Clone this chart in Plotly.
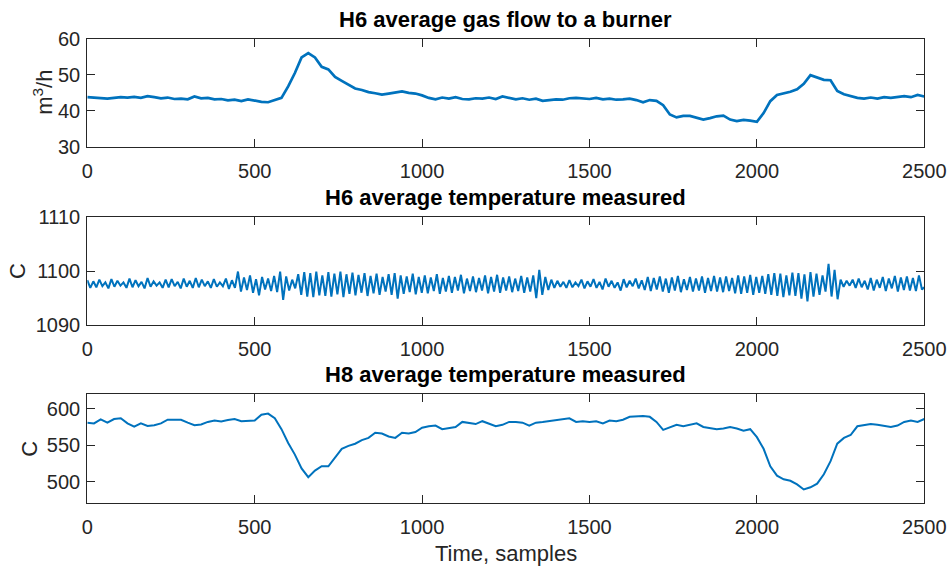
import plotly.graph_objects as go

# ---------------- data ----------------
gas_t = list(range(0, 2501, 20))
gas_v = [43.8, 43.6, 43.5, 43.4, 43.6, 43.8, 43.7, 43.9, 43.6, 44.1,
         43.8, 43.5, 43.7, 43.3, 43.4, 43.2, 44.0, 43.5, 43.6, 43.2,
         43.3, 42.9, 43.1, 42.7, 43.2, 42.8, 42.5, 42.4, 43.1, 43.6,
         46.8, 50.5, 54.8, 56.0, 54.8, 52.2, 51.5, 49.4, 48.3, 47.2,
         46.2, 45.8, 45.2, 44.9, 44.5, 44.8, 45.1, 45.4, 45.0, 44.8,
         44.3, 43.6, 43.2, 43.7, 43.4, 43.8, 43.3, 43.2, 43.5, 43.4,
         43.7, 43.3, 44.0, 43.6, 43.2, 43.5, 43.1, 43.4, 42.8, 43.0,
         43.2, 43.1, 43.5, 43.6, 43.4, 43.3, 43.6, 43.2, 43.4, 43.1,
         43.2, 43.4, 43.0, 42.4, 43.0, 42.8, 41.6, 39.0, 38.2, 38.6,
         38.6, 38.1, 37.6, 38.0, 38.5, 38.7, 37.6, 37.2, 37.5, 37.3,
         37.0, 39.4, 42.7, 44.4, 44.8, 45.3, 46.0, 47.5, 49.9, 49.2,
         48.6, 48.5, 45.5, 44.6, 44.0, 43.6, 43.4, 43.7, 43.4, 43.8,
         43.6, 43.9, 44.1, 43.8, 44.4, 44.0]

h6_t = list(range(0, 2500, 9)) + [2500]
h6_v = [1098.3, 1096.9, 1098.1, 1097.0, 1098.4, 1097.2, 1097.9, 1096.8, 1098.5, 1097.1,
        1098.2, 1097.3, 1097.9, 1096.9, 1098.6, 1097.0, 1098.3, 1097.2, 1098.0, 1096.8,
        1098.7, 1097.1, 1098.1, 1097.3, 1097.9, 1096.9, 1098.4, 1097.0, 1098.5, 1097.2,
        1098.0, 1096.8, 1098.6, 1097.1, 1098.2, 1096.9, 1098.7, 1097.0, 1098.4, 1097.2,
        1098.1, 1096.9, 1098.5, 1097.1, 1097.9, 1097.2, 1098.6, 1096.7, 1098.3, 1096.9,
        1099.9, 1096.2, 1098.8, 1096.5, 1099.2, 1096.0, 1098.5, 1095.5, 1098.9, 1096.6,
        1098.6, 1096.3, 1099.1, 1096.1, 1099.9, 1094.7, 1099.0, 1096.4, 1098.4, 1096.8,
        1099.4, 1095.6, 1099.8, 1095.3, 1099.6, 1095.2, 1099.9, 1095.5, 1099.2, 1095.4,
        1099.8, 1095.3, 1099.5, 1095.7, 1099.9, 1095.2, 1099.4, 1095.8, 1099.7, 1095.5,
        1099.3, 1096.0, 1099.6, 1095.4, 1099.1, 1095.9, 1099.5, 1095.6, 1098.9, 1096.2,
        1099.4, 1095.6, 1099.6, 1094.9, 1099.2, 1095.8, 1099.0, 1096.1, 1099.5, 1095.7,
        1098.9, 1096.0, 1099.2, 1095.9, 1098.8, 1096.3, 1099.4, 1095.8, 1098.7, 1096.2,
        1099.1, 1096.0, 1098.9, 1096.4, 1099.3, 1095.9, 1098.6, 1096.3, 1099.0, 1096.1,
        1098.7, 1096.4, 1099.2, 1095.9, 1098.9, 1096.2, 1099.3, 1096.0, 1098.8, 1096.4,
        1099.0, 1096.1, 1098.6, 1096.3, 1099.1, 1096.0, 1098.8, 1096.2, 1099.2, 1095.0,
        1100.2, 1095.6, 1098.9, 1096.5, 1098.4, 1096.9, 1098.2, 1097.1, 1098.0, 1096.9,
        1098.3, 1097.0, 1097.9, 1097.2, 1098.4, 1096.8, 1098.1, 1097.1, 1098.5, 1096.9,
        1098.0, 1096.6, 1098.6, 1097.1, 1098.2, 1096.9, 1097.9, 1096.4, 1098.5, 1097.0,
        1098.2, 1097.2, 1098.6, 1096.8, 1098.3, 1096.5, 1098.9, 1096.3, 1098.7, 1096.6,
        1099.0, 1096.2, 1098.6, 1096.0, 1098.8, 1096.4, 1099.1, 1096.1, 1098.5, 1096.5,
        1098.9, 1096.2, 1098.6, 1096.4, 1099.0, 1096.0, 1098.7, 1096.3, 1099.1, 1096.2,
        1098.8, 1096.1, 1099.0, 1096.3, 1098.7, 1095.9, 1099.2, 1095.8, 1099.0, 1096.0,
        1099.3, 1095.6, 1098.9, 1096.0, 1099.1, 1095.8, 1099.4, 1095.6, 1099.6, 1095.4,
        1099.5, 1095.2, 1099.2, 1095.5, 1099.7, 1095.4, 1099.6, 1094.9, 1099.4, 1094.4,
        1099.8, 1095.3, 1099.5, 1095.6, 1099.2, 1096.2, 1101.3, 1095.3, 1100.2, 1094.8,
        1098.4, 1097.1, 1098.2, 1097.3, 1098.4, 1096.9, 1098.6, 1097.0, 1098.2, 1096.6,
        1098.7, 1096.4, 1098.4, 1096.9, 1098.9, 1096.3, 1098.6, 1096.8, 1099.1, 1096.2,
        1098.8, 1096.5, 1099.0, 1096.4, 1098.7, 1096.3, 1099.2, 1096.6,
        1097.0]

h8_t = list(range(0, 2501, 20))
h8_v = [581, 580, 585.5, 581, 586, 587, 580, 575.5, 580, 576.5,
        577.5, 580, 585, 585.5, 585, 581, 577.5, 578.5, 582, 584,
        582.5, 584.5, 586, 583, 584, 584, 592, 593.5, 587, 572,
        553, 537, 518, 506, 515, 521, 521, 533, 545, 549,
        552, 557, 560, 567, 566, 562, 560, 567, 566, 568,
        574, 576, 577, 572, 574, 575, 582, 581, 579, 583,
        580, 576, 578, 582, 582, 581, 577, 581, 582, 583,
        584, 585, 587, 582, 583, 582, 583, 580, 584, 583,
        585, 589, 590, 590, 589, 582, 571, 574, 578, 576,
        578, 580, 575, 573, 572, 573, 575, 573, 570, 572,
        561, 545, 521, 508, 503, 501, 496, 489, 492, 497,
        510, 528, 552, 560, 564, 576, 578, 579, 578, 577,
        575, 577, 582, 584, 582, 586]

titles = ["H6 average gas flow to a burner",
          "H6 average temperature measured",
          "H8 average temperature measured"]
ylabels = ["m<sup>3</sup>/h", "C", "C"]
x_ticks = [0, 500, 1000, 1500, 2000, 2500]
y_ticks = [[30, 40, 50, 60], [1090, 1100, 1110], [500, 550, 600]]
y_ranges = [[30, 60], [1090, 1110], [470, 620]]
x_label = "Time, samples"

# ---------------- figure ----------------
W, H = 951, 567
FONT = "Liberation Sans, Arial, Helvetica, sans-serif"
INK = "#262626"
BLUE = "#0072BD"

x_dom = [87.3 / W, 924.3 / W]
y_px = [(38.7, 147.0), (216.7, 325.3), (394.3, 503.3)]
y_doms = [[1 - b / H, 1 - t / H] for t, b in y_px]
ylab_x = [43, 17, 30]
widths = [2.7, 2.0, 2.0]

fig = go.Figure()
series = [(gas_t, gas_v), (h6_t, h6_v), (h8_t, h8_v)]
for i, (t, v) in enumerate(series):
    sfx = "" if i == 0 else str(i + 1)
    fig.add_trace(go.Scatter(x=t, y=v, mode="lines", xaxis="x" + sfx, yaxis="y" + sfx,
                             line=dict(color=BLUE, width=widths[i]), showlegend=False,
                             hoverinfo="skip"))

layout = dict(template="none", width=W, height=H, autosize=False,
              margin=dict(l=0, r=0, t=0, b=0, pad=0),
              paper_bgcolor="white", plot_bgcolor="white",
              font=dict(family=FONT, size=20, color=INK), showlegend=False)

annotations = []
for i in range(3):
    sfx = "" if i == 0 else str(i + 1)
    axcommon = dict(showline=True, linecolor=INK, linewidth=1.3, mirror="allticks",
                    ticks="inside", ticklen=8, tickwidth=1.3, tickcolor=INK,
                    showgrid=False, zeroline=False, automargin=False,
                    tickfont=dict(family=FONT, size=20, color=INK))
    layout["xaxis" + sfx] = dict(domain=x_dom, anchor="y" + sfx, range=[0, 2500],
                                 tickvals=x_ticks, ticklabelstandoff=6, **axcommon)
    layout["yaxis" + sfx] = dict(domain=y_doms[i], anchor="x" + sfx, range=y_ranges[i],
                                 tickvals=y_ticks[i], ticklabelstandoff=2, **axcommon)
    annotations.append(dict(text="<b>" + titles[i] + "</b>", xref="paper", yref="paper",
                            x=(x_dom[0] + x_dom[1]) / 2, y=y_doms[i][1],
                            xanchor="center", yanchor="bottom", yshift=5, showarrow=False,
                            font=dict(family=FONT, size=22, color="black")))
    annotations.append(dict(text=ylabels[i], xref="paper", yref="paper",
                            x=ylab_x[i] / W, y=(y_doms[i][0] + y_doms[i][1]) / 2,
                            xanchor="center", yanchor="middle", textangle=-90,
                            showarrow=False, font=dict(family=FONT, size=22, color=INK)))

annotations.append(dict(text=x_label, xref="paper", yref="paper",
                        x=(x_dom[0] + x_dom[1]) / 2, y=1 - 553 / H,
                        xanchor="center", yanchor="middle", showarrow=False,
                        font=dict(family=FONT, size=22, color=INK)))
layout["annotations"] = annotations
fig.update_layout(**layout)
fig.write_html("out.html")
